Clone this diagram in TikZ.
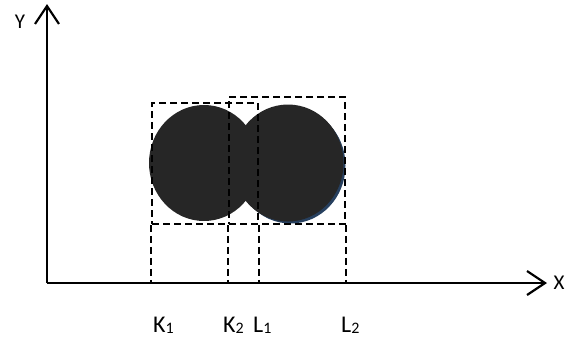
\documentclass[tikz,border=0pt]{standalone}
\usepackage{fontspec}
\setmainfont{Carlito}
\usetikzlibrary{arrows.meta,shapes.geometric}
\newcommand\lowsub[1]{\raisebox{-1.5pt}{\fontsize{16}{16}\selectfont #1}}
\definecolor{blob}{HTML}{262626}
\definecolor{blobshadow}{HTML}{27405F}
\tikzset{
  axis/.style={line width=2.8pt, -{Straight Barb[length=18pt,width=24pt,line width=2.2pt]}},
  dashbox/.style={draw=black, line width=1.7pt, dash pattern=on 7pt off 4pt, minimum width=#1, inner sep=0pt},
  dashline/.style={draw=black, line width=1.7pt, dash pattern=on 7pt off 4pt},
  blobnode/.style={ellipse, fill=blob, inner sep=0pt, minimum width=110pt, minimum height=116pt},
  lab/.style={font=\fontsize{24}{24}\selectfont, inner sep=0pt, anchor=base west},
  axlab/.style={font=\fontsize{21}{21}\selectfont, inner sep=0pt}
}
\begin{document}
\begin{tikzpicture}[x=1pt,y=-1pt]
\useasboundingbox (0,0) rectangle (573,338);
% axes
\coordinate (O) at (47,283);
\coordinate (Ytip) at (47,4);
\coordinate (Xtip) at (547,283);
\draw[axis] (O) -- (Ytip);
\draw[axis] (O) -- (Xtip);
\node[axlab] (ylab) at (20,22) {Y};
\node[axlab] (xlab) at (559,283) {X};
% circles
\node[blobnode, fill=blobshadow] (c2s) at (290.5,165.5) {};
\node[blobnode] (c1) at (204,163) {};
\node[blobnode, minimum width=111pt, minimum height=117pt] (c2) at (288,163) {};
% bounding boxes
\node[dashbox=106pt, minimum height=121pt] (r1) at (205,163.5) {};
\node[dashbox=116pt, minimum height=127pt] (r2) at (287,160.5) {};
% drop lines
\draw[dashline] (r1.south west) -- (r1.south west |- O);
\draw[dashline] (r2.south west) -- (r2.south west |- O);
\draw[dashline] (r1.south east) -- (r1.south east |- O);
\draw[dashline] (r2.south east) -- (r2.south east |- O);
% labels
\node[lab] (k1) at (153,332) {K\lowsub{1}};
\node[lab] (k2) at (223,332) {K\lowsub{2}};
\node[lab] (l1) at (253,332) {L\lowsub{1}};
\node[lab] (l2) at (341,332) {L\lowsub{2}};
\end{tikzpicture}
\end{document}
